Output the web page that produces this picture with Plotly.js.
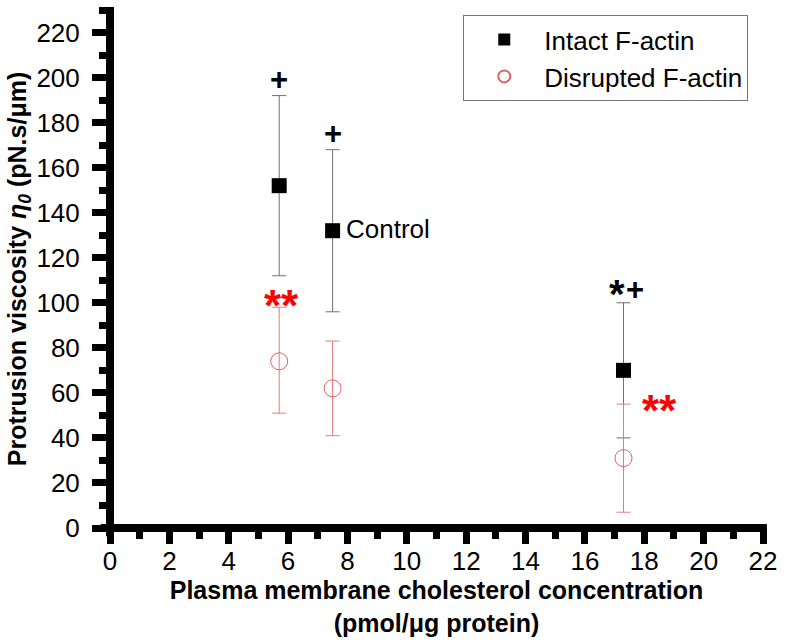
<!DOCTYPE html>
<html>
<head>
<meta charset="utf-8">
<script src="https://cdn.plot.ly/plotly-3.0.1.min.js"></script>
<style>body{margin:0;padding:0;background:#fff;}#chart{width:790px;height:642px;}</style>
</head>
<body>
<div id="chart"></div>
<script>
const cholesterol = [5.7, 7.5, 17.3];
const intactMean = [152, 132, 70];
const intactErrPlus = [40, 36, 30];
const intactErrMinus = [40, 36, 30];
const disruptedMean = [74, 62, 31];
const disruptedErrPlus = [24, 21, 24];
const disruptedErrMinus = [23, 21, 24];
const seriesNames = ["Intact F-actin", "Disrupted F-actin"];
const xTickVals = [0,2,4,6,8,10,12,14,16,18,20,22];
const yTickVals = [0,20,40,60,80,100,120,140,160,180,200,220];

const font = "Liberation Sans, Arial, sans-serif";

const traces = [
  {
    x: cholesterol, y: intactMean, name: seriesNames[0], type: "scatter", mode: "markers",
    marker: {symbol: "square", size: 15, color: "#000"},
    error_y: {type: "data", symmetric: false, array: intactErrPlus, arrayminus: intactErrMinus,
      color: "#707070", thickness: 1, width: 7}
  },
  {
    x: cholesterol, y: disruptedMean, name: seriesNames[1], type: "scatter", mode: "markers",
    marker: {symbol: "circle-open", size: 17, color: "#e06060", line: {width: 1}},
    error_y: {type: "data", symmetric: false, array: disruptedErrPlus, arrayminus: disruptedErrMinus,
      color: "#e87a7a", thickness: 1, width: 7}
  }
];

const axisLine = {color: "#000", width: 8};

const layout = {
  width: 790, height: 642,
  margin: {l: 110, r: 27, t: 10, b: 114},
  paper_bgcolor: "#fff", plot_bgcolor: "#fff",
  showlegend: true,
  legend: {x: 0.541, y: 0.99, xanchor: "left", yanchor: "top", bordercolor: "#777", borderwidth: 1,
    font: {family: font, size: 26, color: "#000"}, bgcolor: "#fff", itemsizing: "constant", itemwidth: 70},
  xaxis: {
    range: [0, 22], tickvals: xTickVals, showgrid: false, zeroline: false, showline: false,
    ticks: "outside", ticklen: 15, tickwidth: 7, tickcolor: "#000",
    minor: {dtick: 1, ticks: "outside", ticklen: 10, tickwidth: 7, tickcolor: "#000", showgrid: false},
    tickfont: {family: font, size: 26, color: "#000"}, ticklabelstandoff: -5,
    title: {text: "<b>Plasma membrane cholesterol concentration<br>(pmol/μg protein)</b>",
      font: {family: font, size: 25, color: "#000"}, standoff: 0}
  },
  yaxis: {
    range: [0, 230], tickvals: yTickVals, showgrid: false, zeroline: false, showline: false,
    ticks: "outside", ticklen: 17, tickwidth: 7, tickcolor: "#000",
    minor: {dtick: 10, ticks: "outside", ticklen: 10, tickwidth: 7, tickcolor: "#000", showgrid: false},
    tickfont: {family: font, size: 26, color: "#000"}, ticklabelstandoff: 7,
    title: {text: "<b>Protrusion viscosity <i>η<sub>0</sub></i> (pN.s/μm)</b>",
      font: {family: font, size: 25, color: "#000"}, standoff: 2}
  },
  shapes: [
    {type: "line", xref: "paper", yref: "paper", x0: 0, x1: 0, y0: -0.016, y1: 1.006, line: axisLine, layer: "above"},
    {type: "line", xref: "paper", yref: "paper", x0: -0.014, x1: 1.006, y0: 0, y1: 0, line: axisLine, layer: "above"}
  ],
  annotations: [
    {x: cholesterol[0], y: 199, text: "<b>+</b>", showarrow: false, font: {family: font, size: 31, color: "#000"}},
    {x: cholesterol[1], y: 175, text: "<b>+</b>", showarrow: false, font: {family: font, size: 31, color: "#000"}},
    {x: cholesterol[2], y: 104, text: "<b>*</b>", showarrow: false, xshift: -7, font: {family: font, size: 40, color: "#000"}},
    {x: cholesterol[2], y: 106, text: "<b>+</b>", showarrow: false, xshift: 11, font: {family: font, size: 31, color: "#000"}},
    {x: 5.77, y: 99, text: "<b>**</b>", showarrow: false, font: {family: font, size: 44, color: "#f00"}},
    {x: 18.5, y: 52, text: "<b>**</b>", showarrow: false, font: {family: font, size: 44, color: "#f00"}},
    {x: cholesterol[1], y: intactMean[1], text: "Control", showarrow: false, xanchor: "left", xshift: 11, yshift: 2,
      font: {family: font, size: 26, color: "#000"}}
  ]
};

Plotly.newPlot("chart", traces, layout, {displayModeBar: false, staticPlot: true});
</script>
</body>
</html>
